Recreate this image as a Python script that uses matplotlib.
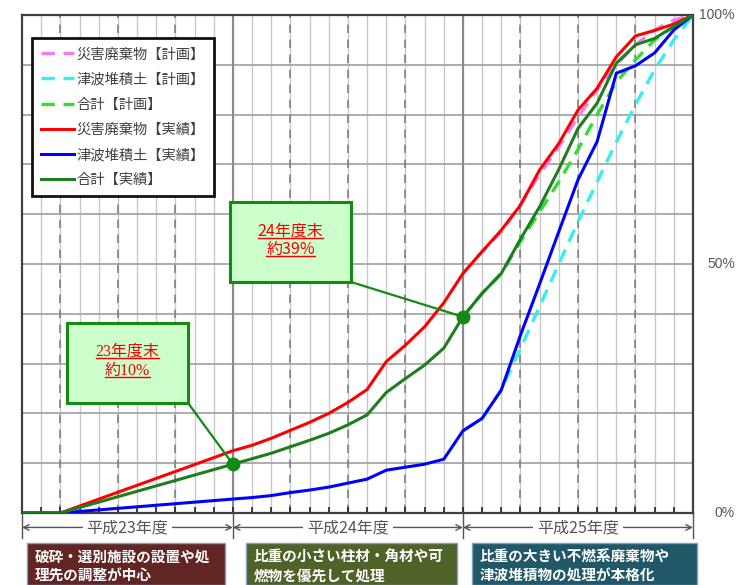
import matplotlib
matplotlib.use('Agg')
import matplotlib.pyplot as plt
from matplotlib.patches import Rectangle
from matplotlib.lines import Line2D

plt.rcParams['font.family'] = ['Noto Sans CJK JP', 'DejaVu Sans']

# months counted from the start of May 2011 (H23) to the end of March 2014 (H25)
act_months = [0, 2] + list(range(11, 36))
disaster_act = [0, 0, 12.5, 13.6, 15.0, 16.6, 18.2, 20.0, 22.2, 24.8, 30.4, 33.7, 37.4, 42.2,
                48.1, 52.5, 56.8, 61.8, 68.9, 74.2, 80.9, 85.3, 91.6, 95.8, 96.9, 98.2, 100]
tsunami_act = [0, 0, 2.8, 3.1, 3.5, 4.1, 4.6, 5.2, 6.0, 6.8, 8.6, 9.2, 9.8, 10.8,
               16.5, 19.0, 24.7, 35.7, 46.0, 56.5, 66.9, 74.6, 88.3, 89.8, 92.4, 97.0, 100]
total_act = [0, 0, 9.8, 10.9, 12.0, 13.3, 14.6, 16.0, 17.7, 19.7, 24.2, 27.0, 29.7, 33.1,
             39.4, 44.1, 48.1, 55.0, 61.5, 69.0, 77.2, 82.3, 90.3, 94.0, 95.3, 97.7, 100]

plan_months = list(range(23, 36))
disaster_plan = [48.1, 52.5, 56.5, 62.0, 68.0, 73.5, 79.5, 85.0, 90.0, 94.0, 97.0, 99.0, 100]
tsunami_plan = [16.5, 19.0, 24.7, 33.0, 41.5, 50.0, 58.5, 66.5, 74.5, 82.0, 89.0, 95.0, 100]
total_plan = [39.4, 44.1, 48.1, 54.5, 60.5, 66.5, 73.0, 80.0, 86.5, 91.0, 95.0, 97.7, 100]

fy_bounds = [0, 11, 23, 35]
fy_names = ['平成23年度', '平成24年度', '平成25年度']
quarter_lines = [2, 5, 8, 14, 17, 20, 26, 29, 32]
y_labels = [0, 50, 100]

callouts = [(11, '23年度末', '約10%'), (23, '24年度末', '約39%')]
notes = ['破砕・選別施設の設置や処\n理先の調整が中心',
         '比重の小さい柱材・角材や可\n燃物を優先して処理',
         '比重の大きい不燃系廃棄物や\n津波堆積物の処理が本格化']
note_colors = ['#632523', '#4f6228', '#215868']

W, H = 749, 585
fig = plt.figure(figsize=(W / 100, H / 100), dpi=100)
ax = fig.add_axes([22 / W, 1 - 513 / H, 671 / W, 498 / H])
ax.set_xlim(0, 35)
ax.set_ylim(0, 100)

# grid
for m in range(1, 35):
    ax.axvline(m, color='#c8c8c8', lw=1.0, zorder=0)
for q in quarter_lines:
    ax.axvline(q, color='#808080', lw=1.2, ls=(0, (5, 4)), zorder=0.5)
for b in fy_bounds[1:-1]:
    ax.axvline(b, color='#8a8a8a', lw=1.5, zorder=0.5)
for v in range(10, 100, 10):
    ax.axhline(v, color='#a6a6a6', lw=1.3, zorder=0.4)

# plan (dashed) under the actual lines
dash = (0, (4, 2.6))
ax.plot(plan_months, tsunami_plan, color='#33f0f0', lw=2.4, ls=dash, zorder=2, label='津波堆積土【計画】')
ax.plot(plan_months, disaster_plan, color='#f080f0', lw=2.4, ls=dash, zorder=2, label='災害廃棄物【計画】')
ax.plot(plan_months, total_plan, color='#33dd33', lw=2.4, ls=dash, zorder=2, label='合計【計画】')
ax.plot(act_months, tsunami_act, color='#0000ff', lw=2.2, zorder=3, label='津波堆積土【実績】')
ax.plot(act_months, disaster_act, color='#ff0000', lw=2.2, zorder=3, label='災害廃棄物【実績】')
ax.plot(act_months, total_act, color='#1e7d1e', lw=2.2, zorder=3, label='合計【実績】')

handles, labels = ax.get_legend_handles_labels()
order = ['災害廃棄物【計画】', '津波堆積土【計画】', '合計【計画】',
         '災害廃棄物【実績】', '津波堆積土【実績】', '合計【実績】']
hmap = dict(zip(labels, handles))
leg = ax.legend([hmap[k] for k in order], order, loc='upper left',
                bbox_to_anchor=(10 / 671, 475 / 498), borderaxespad=0,
                fontsize=10.3, labelspacing=0.78, handlelength=2.3, handletextpad=0.15,
                borderpad=0.65, fancybox=False, framealpha=1, edgecolor='#111111',
                labelcolor='#404040')
leg.get_frame().set_linewidth(2)
leg.set_zorder(5)

# spines & ticks
for s in ax.spines.values():
    s.set_color('#404040')
    s.set_linewidth(1.6)
ax.set_xticks(range(0, 36))
ax.set_yticks([])
ax.tick_params(axis='x', direction='in', length=4, width=1.2, color='#222222', labelbottom=False)

# percent labels on the right
for v in y_labels:
    ax.text(713 / 671, v, f'{v}%', transform=ax.get_yaxis_transform(), ha='right', va='center',
            fontsize=10, color='#595959', family=['Liberation Sans', 'DejaVu Sans'])

# fiscal year arrows under the axis
xt = ax.get_xaxis_transform()
for b in fy_bounds:
    ax.plot([b, b], [0, -0.05], transform=xt, color='#555555', lw=1.0, clip_on=False)
for i, name in enumerate(fy_names):
    a, b = fy_bounds[i], fy_bounds[i + 1]
    ax.annotate('', xy=(a, -0.029), xytext=(b, -0.029), xycoords=xt, textcoords=xt,
                arrowprops=dict(arrowstyle='<->', color='#555555', lw=1.0,
                                shrinkA=0, shrinkB=0))
    ax.text((a + b) / 2, -0.029, name, transform=xt, ha='center', va='center',
            fontsize=11.5, color='#555555',
            bbox=dict(boxstyle='square,pad=0.25', fc='white', ec='none'))

# callout boxes
box_px = [(67, 323, 188, 403), (230, 202, 351, 282)]
fams = [['Liberation Serif', 'Noto Sans CJK JP'], ['Noto Sans CJK JP']]
texts = []
for (mx, l1, l2), (x0, y0, x1, y1), fam in zip(callouts, box_px, fams):
    gx = total_act[act_months.index(mx)]
    fx0, fx1 = x0 / W, x1 / W
    fy0, fy1 = 1 - y1 / H, 1 - y0 / H
    fig.patches.append(Rectangle((fx0, fy0), fx1 - fx0, fy1 - fy0, transform=fig.transFigure,
                                 fc='#ccffcc', ec='#138a13', lw=2.2, zorder=6))
    # connector from box corner to the marker
    mx_fig, my_fig = fig.transFigure.inverted().transform(ax.transData.transform((mx, gx)))
    fig.lines.append(Line2D([fx1, mx_fig], [fy0, my_fig], transform=fig.transFigure,
                            color='#138a13', lw=1.6, zorder=5))
    ax.plot([mx], [gx], 'o', color='#138a13', ms=9, zorder=7, clip_on=False)
    cx = (fx0 + fx1) / 2
    cy = (fy0 + fy1) / 2
    t1 = fig.text(cx, cy + 0.019, l1, ha='center', va='center', color='#ff0000',
                  fontsize=11.5, family=fam, zorder=7)
    t2 = fig.text(cx, cy - 0.013, l2, ha='center', va='center', color='#ff0000',
                  fontsize=11.5, family=fam, zorder=7)
    texts += [t1, t2]

fig.canvas.draw()
r = fig.canvas.get_renderer()
inv = fig.transFigure.inverted()
for t in texts:
    bb = t.get_window_extent(r)
    (ax0, ay0), (ax1, ay1) = inv.transform([(bb.x0, bb.y0), (bb.x1, bb.y1)])
    fig.lines.append(Line2D([ax0, ax1], [ay0 + 0.003, ay0 + 0.003], transform=fig.transFigure,
                            color='#ff0000', lw=1.0, zorder=7))

# bottom explanatory boxes
note_px = [(27, 225), (246, 457), (472, 697)]
for (x0, x1), txt, c in zip(note_px, notes, note_colors):
    fig.patches.append(Rectangle((x0 / W, 0), (x1 - x0) / W, (H - 543) / H,
                                 transform=fig.transFigure, fc=c, ec='#7f9fc8', lw=1.0))
    fig.text((x0 + 8) / W, 1 - 566 / H, txt, ha='left', va='center', color='white',
             fontsize=10.5, fontweight='bold', linespacing=1.25)

fig.savefig('out.png', dpi=100)
